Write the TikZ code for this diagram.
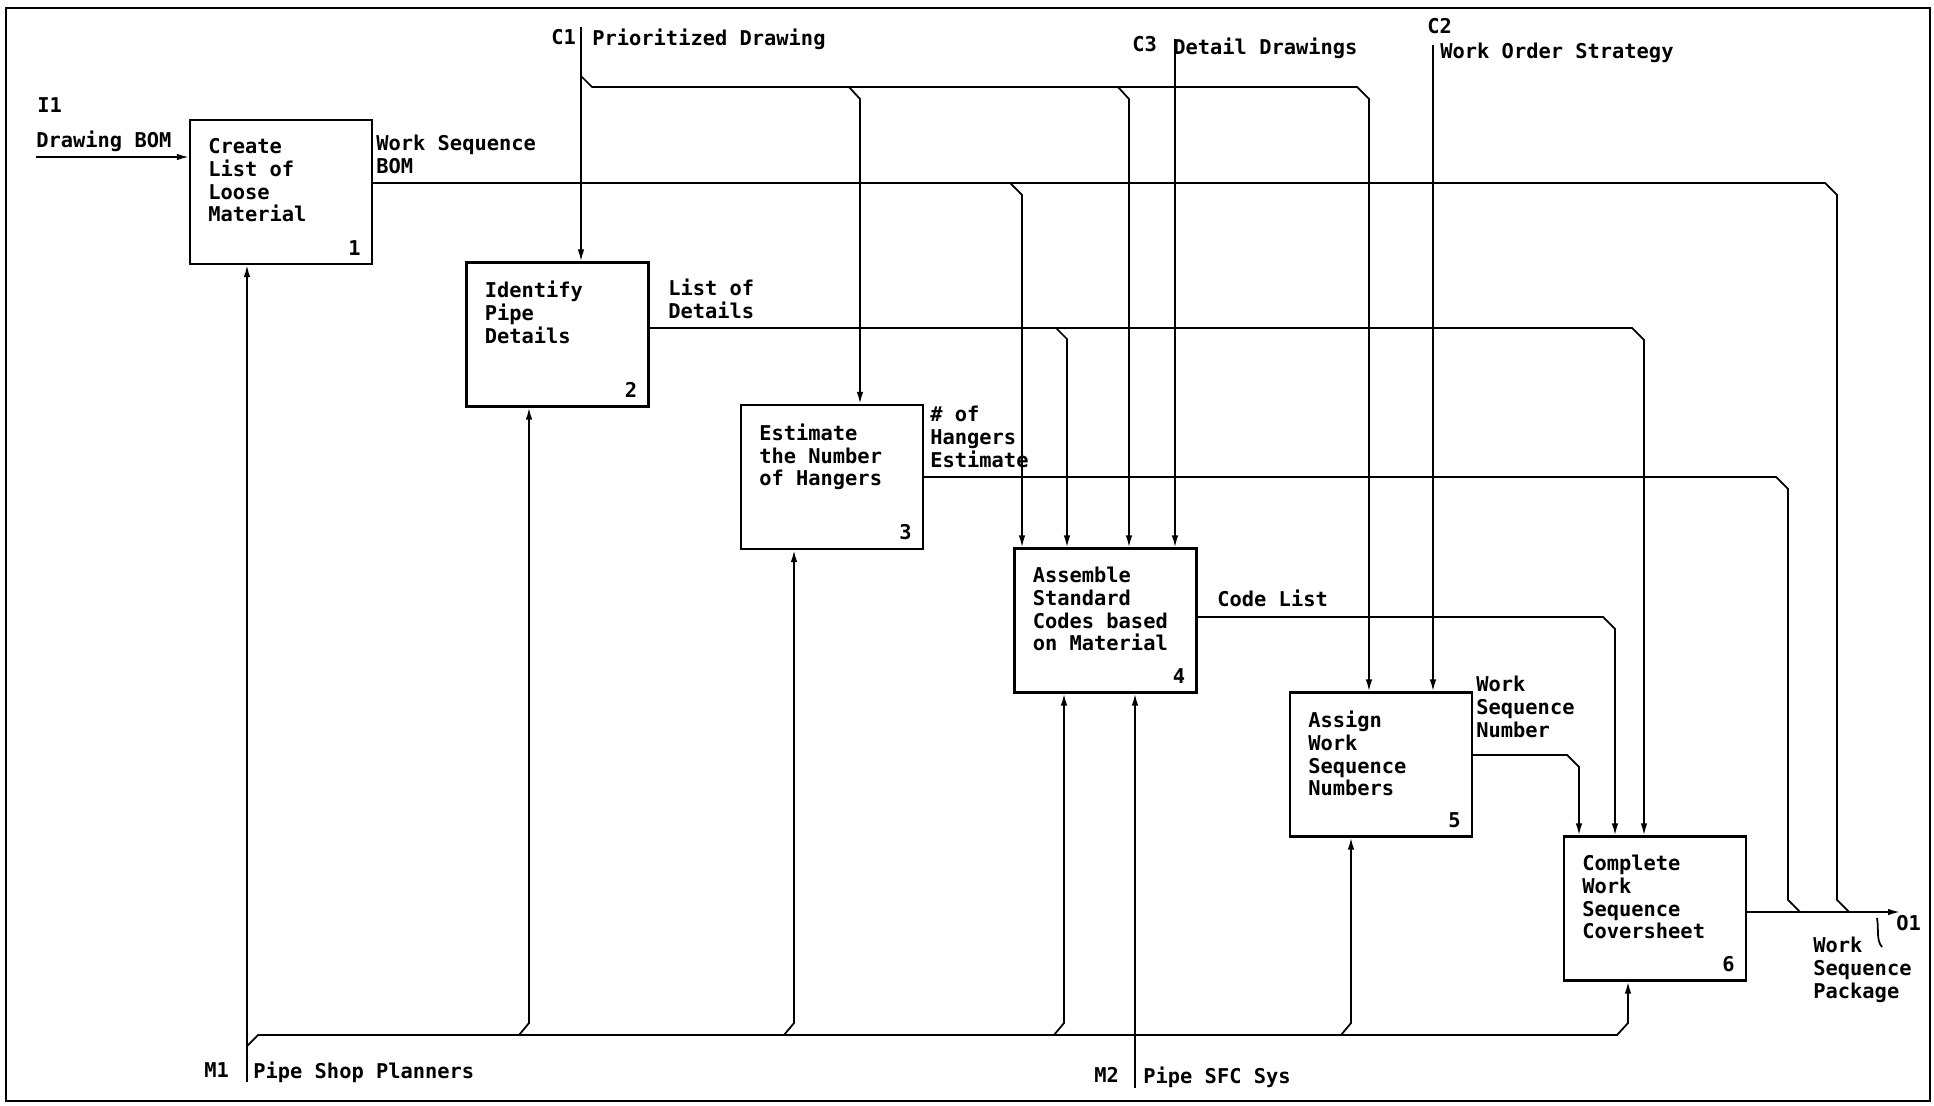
\documentclass[tikz,border=0pt]{standalone}
\usepackage{fontspec}
\setmonofont{DejaVu Sans Mono}
\usetikzlibrary{arrows.meta}

\begin{document}
\begin{tikzpicture}[x=0.2mm,y=-0.2mm,
  font=\ttfamily\bfseries\fontsize{11.6}{12.9}\selectfont,
  act/.style={draw,line width=1.2pt,minimum width=3.64cm,minimum height=2.88cm,inner sep=0pt},
  txt/.style={inner sep=0pt,align=left},
  boxtxt/.style={txt,anchor=north west,xshift=0.38cm,yshift=-0.39cm},
  boxnum/.style={txt,anchor=south east,xshift=-0.24cm,yshift=0.19cm},
  flow/.style={line width=1pt},
  arr/.style={flow,-{Latex[length=2.4mm,width=1.3mm]}}]
\useasboundingbox (0,0) rectangle (1934,1105);
\draw[line width=1pt] (6,8) rectangle (1930,1101);

% activities
\node[act,label={[boxtxt]north west:Create\\List of\\Loose\\Material},label={[boxnum]south east:1}] (a1) at (281,192) {};
\node[act,label={[boxtxt]north west:Identify\\Pipe\\Details},label={[boxnum]south east:2}] (a2) at (557.5,334.5) {};
\node[act,label={[boxtxt]north west:Estimate\\the Number\\of Hangers},label={[boxnum]south east:3}] (a3) at (832,477) {};
\node[act,label={[boxtxt]north west:Assemble\\Standard\\Codes based\\on Material},label={[boxnum]south east:4}] (a4) at (1105.5,620.5) {};
\node[act,label={[boxtxt]north west:Assign\\Work\\Sequence\\Numbers},label={[boxnum]south east:5}] (a5) at (1381,764.5) {};
\node[act,label={[boxtxt]north west:Complete\\Work\\Sequence\\Coversheet},label={[boxnum]south east:6}] (a6) at (1655,908.5) {};

% boundary ends
\coordinate (i1) at (36,157);
\coordinate (c1) at (581,27);
\coordinate (c3) at (1175,39);
\coordinate (c2) at (1433,45);
\coordinate (m1) at (247,1082);
\coordinate (m2) at (1135,1088);
\coordinate (o1) at (1900,912);

% input
\draw[arr] (i1) -- (a1.west |- i1);

% controls
\draw[arr] (c1) -- (c1 |- a2.north);
\draw[arr] (c1 |- 0,76) -- ++(11,11) -- (1357,87) -- ++(12,12) -- (a5.north -| 1369,0);
\draw[arr] (849,87) -- ++(11,12) -- (a3.north -| 860,0);
\draw[arr] (1118,87) -- ++(11,12) -- (a4.north -| 1129,0);
\draw[arr] (c3) -- (c3 |- a4.north);
\draw[arr] (c2) -- (c2 |- a5.north);

% internal flows
\draw[flow] (a1.east |- 0,183) -- (1825,183) -- ++(12,12) -- (1837,900) -- ++(12,12);
\draw[arr] (1010,183) -- ++(12,12) -- (a4.north -| 1022,0);
\draw[arr] (a2.east |- 0,328) -- (1632,328) -- ++(12,12) -- (a6.north -| 1644,0);
\draw[arr] (1056,328) -- ++(11,11) -- (a4.north -| 1067,0);
\draw[flow] (a3.east |- 0,477) -- (1776,477) -- ++(12,12) -- (1788,900) -- ++(12,12);
\draw[arr] (a4.east |- 0,617) -- (1603,617) -- ++(12,12) -- (a6.north -| 1615,0);
\draw[arr] (a5.east |- 0,755) -- (1567,755) -- ++(12,12) -- (a6.north -| 1579,0);

% output
\draw[arr] (a6.east |- o1) -- (o1);
\draw[flow] (1877,918) .. controls (1879,930) and (1876,940) .. (1882,947);

% mechanisms
\draw[arr] (m1) -- (m1 |- a1.south);
\draw[arr] (m1 |- 0,1046) -- ++(11,-11) -- (1617,1035) -- ++(11,-12) -- (a6.south -| 1628,0);
\draw[arr] (519,1035) -- ++(10,-12) -- (a2.south -| 529,0);
\draw[arr] (784,1035) -- ++(10,-12) -- (a3.south -| 794,0);
\draw[arr] (1054,1035) -- ++(10,-12) -- (a4.south -| 1064,0);
\draw[arr] (1341,1035) -- ++(10,-12) -- (a5.south -| 1351,0);
\draw[arr] (m2) -- (m2 |- a4.south);

% labels
\node[txt,anchor=north west] (li1) at (37,97) {I1};
\node[txt,anchor=north west] (ldb) at (36,131) {Drawing BOM};
\node[txt,anchor=north west] (lwsb) at (376,135) {Work Sequence\\BOM};
\node[txt,anchor=north west] (llod) at (668,279) {List of\\Details};
\node[txt,anchor=north west] (lhe) at (930,406) {\# of\\Hangers\\Estimate};
\node[txt,anchor=north west] (lcl) at (1217,590) {Code List};
\node[txt,anchor=north west] (lwsn) at (1476,676) {Work\\Sequence\\Number};
\node[txt,anchor=north west] (lwsp) at (1813,937) {Work\\Sequence\\Package};
\node[txt,anchor=north west] (lo1) at (1896,915) {O1};
\node[txt,anchor=north west] (lc1) at (551,29) {C1};
\node[txt,anchor=north west] (lpd) at (592,29) {Prioritized Drawing};
\node[txt,anchor=north west] (lc3) at (1132,36) {C3};
\node[txt,anchor=north west] (ldd) at (1173,38) {Detail Drawings};
\node[txt,anchor=north west] (lc2) at (1427,18) {C2};
\node[txt,anchor=north west] (lwos) at (1440,43) {Work Order Strategy};
\node[txt,anchor=north west] (lm1) at (204,1062) {M1};
\node[txt,anchor=north west] (lpsp) at (253,1062) {Pipe Shop Planners};
\node[txt,anchor=north west] (lm2) at (1094,1067) {M2};
\node[txt,anchor=north west] (lsfc) at (1143,1067) {Pipe SFC Sys};
\end{tikzpicture}
\end{document}
